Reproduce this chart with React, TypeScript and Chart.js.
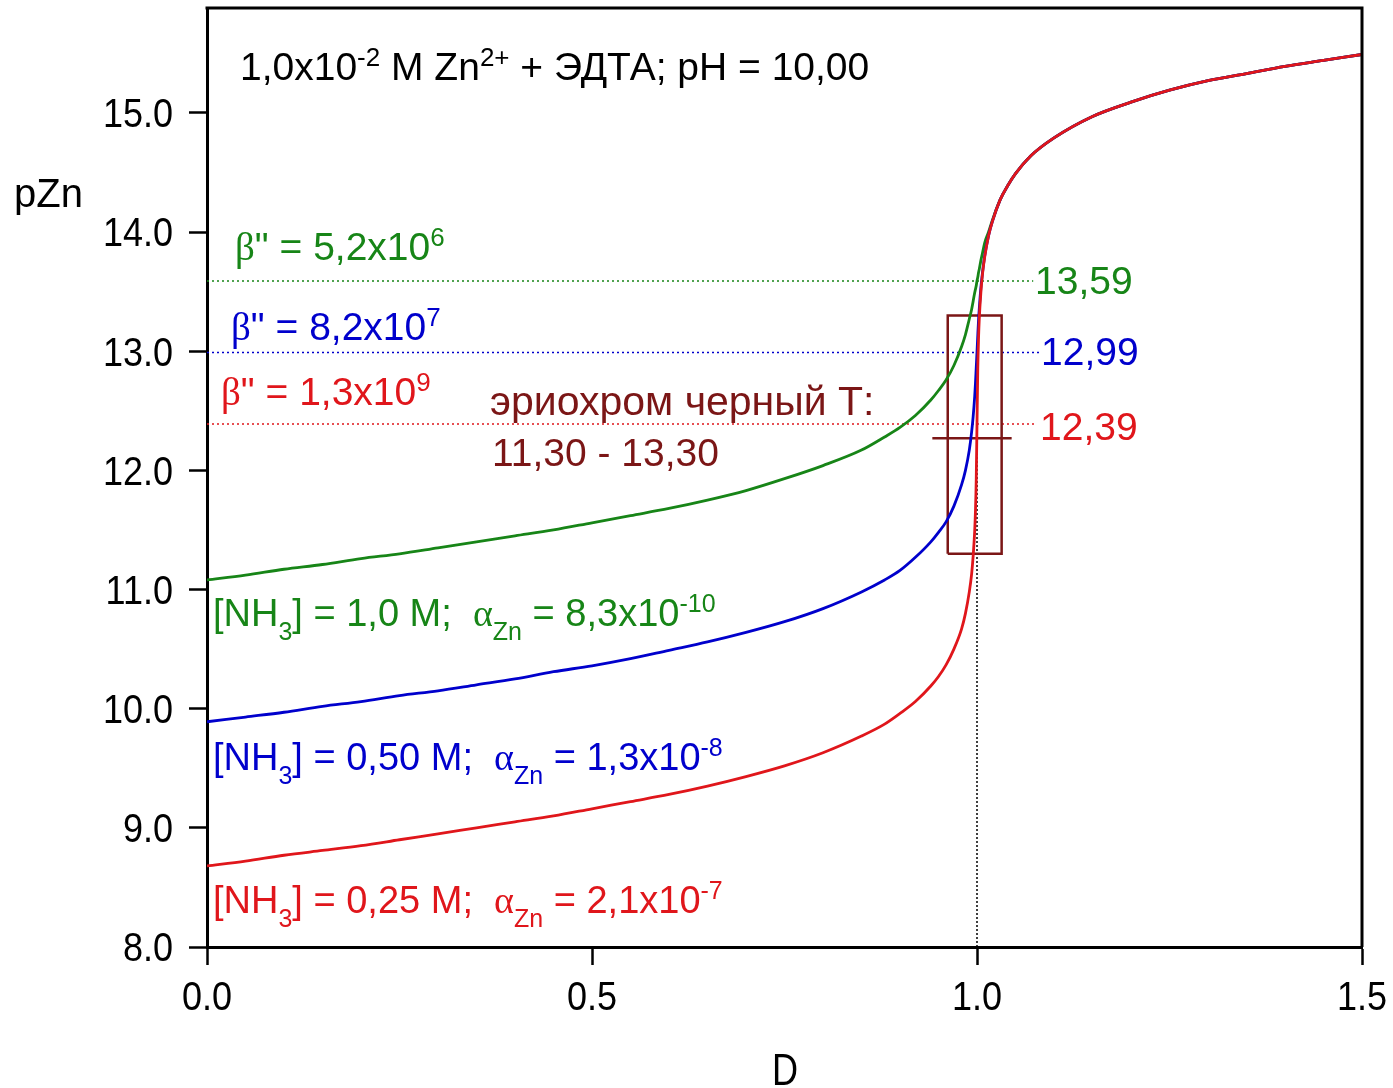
import React, { useEffect, useRef } from "react";
import { Chart, registerables } from "chart.js";

Chart.register(...registerables);

// ---- data ----
const D_VALUES = [0, 0.05, 0.1, 0.15, 0.2, 0.25, 0.3, 0.35, 0.4, 0.45, 0.5, 0.55, 0.6, 0.65, 0.7, 0.75, 0.8, 0.85, 0.88, 0.9, 0.92, 0.94, 0.95, 0.96, 0.97, 0.98, 0.985, 0.99, 0.993, 0.995, 0.997, 0.998, 0.999, 1.0, 1.001, 1.002, 1.003, 1.005, 1.007, 1.01, 1.015, 1.02, 1.03, 1.04, 1.05, 1.07, 1.1, 1.15, 1.2, 1.25, 1.3, 1.35, 1.4, 1.45, 1.5];

const PZN_RED = [8.68, 8.72, 8.77, 8.81, 8.85, 8.90, 8.95, 9.00, 9.05, 9.10, 9.16, 9.22, 9.28, 9.35, 9.43, 9.52, 9.63, 9.77, 9.87, 9.96, 10.06, 10.19, 10.27, 10.37, 10.50, 10.67, 10.80, 10.98, 11.13, 11.28, 11.49, 11.66, 11.92, 12.39, 12.85, 13.11, 13.28, 13.49, 13.64, 13.79, 13.97, 14.09, 14.27, 14.39, 14.49, 14.64, 14.79, 14.97, 15.09, 15.19, 15.27, 15.33, 15.39, 15.44, 15.49];

const PZN_BLUE = [9.89, 9.93, 9.97, 10.02, 10.06, 10.11, 10.15, 10.20, 10.25, 10.31, 10.36, 10.42, 10.49, 10.56, 10.64, 10.73, 10.84, 10.98, 11.08, 11.16, 11.27, 11.40, 11.48, 11.57, 11.70, 11.88, 12.00, 12.17, 12.32, 12.45, 12.62, 12.73, 12.86, 12.99, 13.13, 13.26, 13.36, 13.53, 13.65, 13.80, 13.97, 14.09, 14.27, 14.39, 14.49, 14.64, 14.79, 14.97, 15.09, 15.19, 15.27, 15.33, 15.39, 15.44, 15.49];

const PZN_GREEN = [11.08, 11.12, 11.17, 11.21, 11.26, 11.30, 11.35, 11.40, 11.45, 11.50, 11.56, 11.62, 11.68, 11.75, 11.83, 11.93, 12.04, 12.17, 12.28, 12.36, 12.46, 12.59, 12.67, 12.76, 12.88, 13.04, 13.14, 13.27, 13.35, 13.42, 13.49, 13.52, 13.55, 13.59, 13.62, 13.66, 13.69, 13.76, 13.82, 13.91, 14.00, 14.10, 14.27, 14.39, 14.49, 14.64, 14.79, 14.97, 15.09, 15.19, 15.27, 15.33, 15.39, 15.44, 15.49];

// equivalence-point pZn values and the D where each dotted guide ends
const EQ_PZN_GREEN = 13.59;
const EQ_PZN_BLUE = 12.99;
const EQ_PZN_RED = 12.39;
const GUIDE_END_GREEN = 1.073;
const GUIDE_END_BLUE = 1.081;
const GUIDE_END_RED = 1.075;
const EQ_D = 1.0;

// indicator (eriochrome black T) transition range
const IND_LOW = 11.3;
const IND_HIGH = 13.3;
const IND_MID = 12.27;
const IND_D_LEFT = 0.962;
const IND_D_RIGHT = 1.032;
const IND_MID_D_LEFT = 0.942;
const IND_MID_D_RIGHT = 1.045;

const X_TICKS = [0, 0.5, 1.0, 1.5];
const Y_TICKS = [8, 9, 10, 11, 12, 13, 14, 15];
const X_MIN = 0, X_MAX = 1.5, Y_MIN = 8, Y_MAX = 15.88;

const GREEN = "#178517";
const BLUE = "#0000cc";
const RED = "#e0161b";
const MAROON = "#7b1616";

const SANS = '"Liberation Sans", Arial, sans-serif';
const SERIF = '"Liberation Serif", "Times New Roman", serif';

type Seg = { t: string; k?: "n" | "sup" | "sub" | "g" };

function drawRich(ctx: CanvasRenderingContext2D, x: number, y: number, segs: Seg[], color: string, size: number) {
  ctx.save();
  ctx.fillStyle = color;
  ctx.textBaseline = "alphabetic";
  ctx.textAlign = "left";
  let cx = x;
  for (const s of segs) {
    const small = s.k === "sup" || s.k === "sub";
    const fs = small ? Math.round(size * 0.66) : size;
    const fam = s.k === "g" ? SERIF : SANS;
    ctx.font = `${fs}px ${fam}`;
    const dy = s.k === "sup" ? -size * 0.36 : s.k === "sub" ? size * 0.36 : 0;
    ctx.fillText(s.t, cx, y + dy);
    cx += ctx.measureText(s.t).width;
  }
  ctx.restore();
}

function drawScaled(ctx: CanvasRenderingContext2D, text: string, x: number, y: number, size: number, sx: number, align: CanvasTextAlign, color = "#000") {
  ctx.save();
  ctx.translate(x, y);
  ctx.scale(sx, 1);
  ctx.font = `${size}px ${SANS}`;
  ctx.fillStyle = color;
  ctx.textAlign = align;
  ctx.textBaseline = "alphabetic";
  ctx.fillText(text, 0, 0);
  ctx.restore();
}

const annotations = {
  id: "annotations",
  afterDraw(chart: any) {
    const ctx: CanvasRenderingContext2D = chart.ctx;
    const a = chart.chartArea;
    const xs = chart.scales.x;
    const ys = chart.scales.y;
    // frame top/right
    ctx.save();
    ctx.strokeStyle = "#000";
    ctx.lineWidth = 3;
    ctx.beginPath();
    ctx.moveTo(a.left - 1.5, a.top);
    ctx.lineTo(a.right, a.top);
    ctx.lineTo(a.right, a.bottom);
    ctx.stroke();
    ctx.restore();

    // tick labels (positions from the library's scales)
    const TS = 40;
    for (const v of Y_TICKS) {
      const py = ys.getPixelForValue(v);
      drawScaled(ctx, v.toFixed(1), a.left - 34, py + TS * 0.358, TS, 0.9, "right");
    }
    for (const v of X_TICKS) {
      const px = xs.getPixelForValue(v);
      drawScaled(ctx, v.toFixed(1), px, a.bottom + 63, TS, 0.9, "center");
    }

    const S = 39;
    drawRich(ctx, 240, 80, [
      { t: "1,0x10" }, { t: "-2", k: "sup" }, { t: " M Zn" }, { t: "2+", k: "sup" }, { t: " + ЭДТА; pH = 10,00" },
    ], "#000", S);

    drawRich(ctx, 235, 260, [{ t: "β", k: "g" }, { t: "\" = 5,2x10" }, { t: "6", k: "sup" }], GREEN, S);
    drawRich(ctx, 231, 340, [{ t: "β", k: "g" }, { t: "\" = 8,2x10" }, { t: "7", k: "sup" }], BLUE, S);
    drawRich(ctx, 221, 405, [{ t: "β", k: "g" }, { t: "\" = 1,3x10" }, { t: "9", k: "sup" }], RED, S);

    drawRich(ctx, 490, 415, [{ t: "эриохром черный Т:" }], MAROON, 41);
    drawRich(ctx, 492, 466, [{ t: "11,30 - 13,30" }], MAROON, S);

    drawRich(ctx, 213, 626, [
      { t: "[NH" }, { t: "3", k: "sub" }, { t: "] = 1,0 M;  " }, { t: "α", k: "g" }, { t: "Zn", k: "sub" }, { t: " = 8,3x10" }, { t: "-10", k: "sup" },
    ], GREEN, 38);
    drawRich(ctx, 213, 770, [
      { t: "[NH" }, { t: "3", k: "sub" }, { t: "] = 0,50 M;  " }, { t: "α", k: "g" }, { t: "Zn", k: "sub" }, { t: " = 1,3x10" }, { t: "-8", k: "sup" },
    ], BLUE, 38);
    drawRich(ctx, 213, 913, [
      { t: "[NH" }, { t: "3", k: "sub" }, { t: "] = 0,25 M;  " }, { t: "α", k: "g" }, { t: "Zn", k: "sub" }, { t: " = 2,1x10" }, { t: "-7", k: "sup" },
    ], RED, 38);

    drawRich(ctx, 1035, 294, [{ t: "13,59" }], GREEN, S);
    drawRich(ctx, 1041, 365, [{ t: "12,99" }], BLUE, S);
    drawRich(ctx, 1040, 440, [{ t: "12,39" }], RED, S);

    // axis titles
    drawScaled(ctx, "pZn", 14, 207, 40, 1.0, "left");
    drawScaled(ctx, "D", 785, 1085, 44, 0.82, "center");
  },
};

function pts(xs: number[], ys: number[]) {
  return xs.map((x, i) => ({ x, y: ys[i] }));
}

function zeroPad(s: any) {
  s.paddingTop = 0;
  s.paddingBottom = 0;
  s.paddingLeft = 0;
  s.paddingRight = 0;
}

export default function App() {
  const ref = useRef<HTMLCanvasElement | null>(null);

  useEffect(() => {
    if (!ref.current) return;
    const guide = (color: string, d: number[], p: number[], order: number, width = 1.5, dash = [2, 3]) => ({
      data: pts(d, p),
      borderColor: color,
      borderWidth: width,
      borderDash: dash,
      pointRadius: 0,
      tension: 0,
      order,
    });
    const curve = (color: string, ys: number[], order: number) => ({
      data: pts(D_VALUES, ys),
      borderColor: color,
      borderWidth: 2.8,
      pointRadius: 0,
      cubicInterpolationMode: "monotone" as const,
      order,
    });

    const chart = new Chart(ref.current, {
      type: "line",
      data: {
        datasets: [
          guide(GREEN, [0, GUIDE_END_GREEN], [EQ_PZN_GREEN, EQ_PZN_GREEN], 10),
          guide(BLUE, [0, GUIDE_END_BLUE], [EQ_PZN_BLUE, EQ_PZN_BLUE], 10),
          guide(RED, [0, GUIDE_END_RED], [EQ_PZN_RED, EQ_PZN_RED], 10),
          guide("#000", [EQ_D, EQ_D], [Y_MIN, EQ_PZN_RED], 9, 1.5, [2, 2]),
          guide(MAROON, [IND_D_LEFT, IND_D_RIGHT, IND_D_RIGHT, IND_D_LEFT, IND_D_LEFT], [IND_LOW, IND_LOW, IND_HIGH, IND_HIGH, IND_LOW], 5, 2.5, []),
          guide(MAROON, [IND_MID_D_LEFT, IND_MID_D_RIGHT], [IND_MID, IND_MID], 5, 2.5, []),
          curve(GREEN, PZN_GREEN, 3),
          curve(BLUE, PZN_BLUE, 2),
          curve(RED, PZN_RED, 1),
        ] as any,
      },
      options: {
        animation: false,
        responsive: false,
        events: [],
        layout: { padding: { left: 0, right: 31, top: 8, bottom: 0 } },
        plugins: { legend: { display: false }, tooltip: { enabled: false }, title: { display: false } },
        scales: {
          x: {
            type: "linear",
            min: X_MIN,
            max: X_MAX,
            afterFit: (s: any) => { s.height = 141; zeroPad(s); },
            afterBuildTicks: (s: any) => { s.ticks = X_TICKS.map((v) => ({ value: v })); },
            border: { display: true, color: "#000", width: 3 },
            grid: { drawOnChartArea: false, drawTicks: true, tickLength: 18, tickWidth: 2.5, tickColor: "#000" },
            ticks: { display: false },
          },
          y: {
            type: "linear",
            min: Y_MIN,
            max: Y_MAX,
            afterFit: (s: any) => { s.width = 207; zeroPad(s); },
            afterBuildTicks: (s: any) => { s.ticks = Y_TICKS.map((v) => ({ value: v })); },
            border: { display: true, color: "#000", width: 3 },
            grid: { drawOnChartArea: false, drawTicks: true, tickLength: 18, tickWidth: 2.5, tickColor: "#000" },
            ticks: { display: false },
          },
        },
      },
      plugins: [annotations],
    });
    return () => chart.destroy();
  }, []);

  return (
    <div style={{ position: "fixed", left: 0, top: 0, width: 1393, height: 1088, background: "#fff" }}>
      <canvas ref={ref} width={1393} height={1088} style={{ width: 1393, height: 1088, display: "block" }} />
    </div>
  );
}
